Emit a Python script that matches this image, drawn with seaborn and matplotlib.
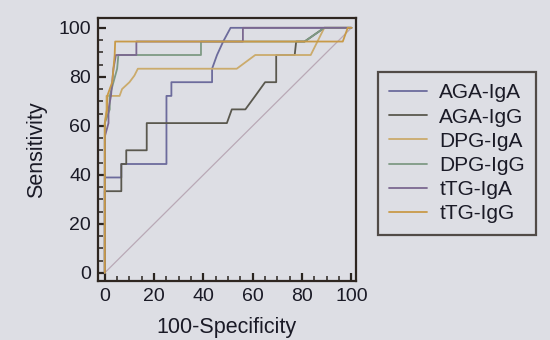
import pandas as pd
import matplotlib.pyplot as plt
import seaborn as sns

# ROC curves (x = 100-specificity, y = sensitivity)
aga_iga_x = [0, 0, 6.7, 6.7, 25, 25, 27, 27, 43.5, 43.5, 45.5, 48, 51, 100]
aga_iga_y = [0, 38.9, 38.9, 44.4, 44.4, 72.2, 72.2, 77.8, 77.8, 83.3, 88.9, 94.4, 100, 100]

aga_igg_x = [0, 0, 6.7, 6.7, 8.7, 8.7, 17, 17, 49.5, 51.5, 57, 61, 65, 69.5, 69.5, 77, 77.6, 81, 89, 100]
aga_igg_y = [0, 33.3, 33.3, 44.4, 44.4, 50, 50, 61.1, 61.1, 66.7, 66.7, 72.2, 77.8, 77.8, 88.9, 88.9, 94.4, 94.4, 100, 100]

dpg_iga_x = [0, 0, 0.7, 0.7, 6, 7, 10, 12, 13.4, 53.5, 61, 83.5, 89, 100]
dpg_iga_y = [0, 61.1, 66.7, 72.2, 72.2, 75, 77.8, 80.5, 83.3, 83.3, 88.9, 88.9, 100, 100]

dpg_igg_x = [0, 0, 2, 2, 5, 5.5, 39, 39, 81, 89, 100]
dpg_igg_y = [0, 61.1, 66.7, 72.2, 83.3, 88.9, 88.9, 94.4, 94.4, 100, 100]

ttg_iga_x = [0, 0, 1.5, 1.5, 2.5, 3, 3.5, 4.5, 12.8, 12.8, 56, 56, 100]
ttg_iga_y = [0, 55.6, 61.1, 66.7, 72.2, 77.8, 83.3, 88.9, 88.9, 94.4, 94.4, 100, 100]

ttg_igg_x = [0, 0, 1, 1, 3, 4, 4.2, 96.5, 98.5, 100]
ttg_igg_y = [0, 61.1, 66.7, 72.2, 77.8, 88.9, 94.4, 94.4, 100, 100]

tests = ["AGA-IgA", "AGA-IgG", "DPG-IgA", "DPG-IgG", "tTG-IgA", "tTG-IgG"]
curves_x = [aga_iga_x, aga_igg_x, dpg_iga_x, dpg_igg_x, ttg_iga_x, ttg_igg_x]
curves_y = [aga_iga_y, aga_igg_y, dpg_iga_y, dpg_igg_y, ttg_iga_y, ttg_igg_y]
colors = ["#6c6b9c", "#5a584e", "#cbab6c", "#7e9a84", "#7b6890", "#c89a48"]

rows = []
for name, xs, ys in zip(tests, curves_x, curves_y):
    for i, (x, y) in enumerate(zip(xs, ys)):
        rows.append({"test": name, "order": i, "fpr": x, "sens": y})
df = pd.DataFrame(rows)

bg = "#dddee4"
txt = "#1a1a26"
sns.set_style("ticks")
plt.rcParams["font.family"] = ["Liberation Sans", "DejaVu Sans"]

fig = plt.figure(figsize=(5.5, 3.4), dpi=100, facecolor=bg)
ax = fig.add_axes([0.178, 0.174, 0.469, 0.773], facecolor=bg)

# reference diagonal
ax.plot([0, 100], [0, 100], color="#b9a9b6", lw=0.9, zorder=1)

sns.lineplot(data=df, x="fpr", y="sens", hue="test", hue_order=tests,
             palette=colors, sort=False, estimator=None, lw=1.3, ax=ax)

ax.set_xlim(-2.8, 101.8)
ax.set_ylim(-3.3, 104)
ax.set_xticks(range(0, 101, 20))
ax.set_yticks(range(0, 101, 20))
ax.set_xticks(range(0, 101, 5), minor=True)
ax.set_yticks(range(0, 101, 5), minor=True)
ax.tick_params(which="major", direction="in", length=6, width=1.6,
               color="#2a2420", labelsize=14, labelcolor=txt, pad=5)
ax.tick_params(which="minor", direction="in", length=3.5, width=1.1, color="#2a2420")
for s in ax.spines.values():
    s.set_visible(True)
    s.set_color("#2e2620")
    s.set_linewidth(1.6)

ax.set_xlabel("100-Specificity", fontsize=15.5, color=txt, labelpad=9)
ax.set_ylabel("Sensitivity", fontsize=15.5, color=txt, labelpad=8)

leg = ax.legend(loc="upper left", bbox_to_anchor=(1.085, 0.795), frameon=True,
                fontsize=15, handlelength=1.8, handletextpad=0.6,
                labelspacing=0.25, borderpad=0.55, borderaxespad=0,
                fancybox=False, labelcolor=txt)
leg.get_frame().set_facecolor(bg)
leg.get_frame().set_edgecolor("#2e2620")
leg.get_frame().set_linewidth(1.6)
for line in leg.get_lines():
    line.set_linewidth(1.3)

plt.savefig("out.png", dpi=100, facecolor=bg)
